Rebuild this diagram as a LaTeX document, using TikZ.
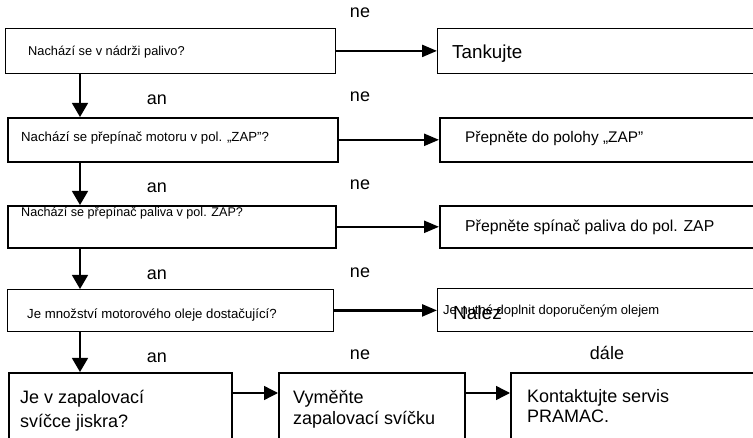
\documentclass[tikz,border=0pt]{standalone}
\usepackage{fontspec}
\setmainfont{Liberation Sans}
\usetikzlibrary{arrows.meta}
\tikzset{
  qbox/.style={draw,rectangle,anchor=north west,inner sep=0pt},
  thinbox/.style={qbox,line width=0.8pt},
  thickbox/.style={qbox,line width=1.6pt},
  txt/.style={anchor=base west,inner sep=0pt},
  lbl/.style={anchor=base,inner sep=0pt,font=\fontsize{18}{20}\selectfont},
  harrow/.style={line width=2.4pt,-{Triangle[length=15pt,width=12pt]}},
  varrow/.style={line width=1.4pt,-{Triangle[length=14pt,width=16pt]}},
  barrow/.style={line width=1.4pt,-{Triangle[length=14pt,width=14pt]}},
}

\begin{document}
\begin{tikzpicture}[x=1pt,y=-1pt]
\useasboundingbox (0,0) rectangle (753,438);
\clip (0,0) rectangle (753,438);
% left column: questions
\node[thinbox,minimum width=330pt,minimum height=45pt] (q1) at (5,28) {};
\node[thickbox,minimum width=330pt,minimum height=44pt] (q2) at (7,117) {};
\node[thickbox,minimum width=328pt,minimum height=42pt] (q3) at (7,205) {};
\node[thinbox,minimum width=326pt,minimum height=42pt] (q4) at (7,289) {};
\node[txt,font=\fontsize{12.8}{15}\selectfont] (t1) at (28,56) {Nachází se v nádrži palivo?};
\node[txt,font=\fontsize{13.2}{15}\selectfont] (t2) at (21,141.5) {Nachází se přepínač motoru v pol. „ZAP”?};
\node[txt,font=\fontsize{12.6}{15}\selectfont] (t3) at (21,217) {Nachází se přepínač paliva v pol. ZAP?};
\node[txt,font=\fontsize{13.2}{15}\selectfont] (t4) at (27,319) {Je množství motorového oleje dostačující?};
% right column: remedies (run off the page)
\node[thinbox,minimum width=330pt,minimum height=45pt] (r1) at (437,28) {};
\node[thickbox,minimum width=330pt,minimum height=44pt] (r2) at (439,117) {};
\node[thickbox,minimum width=330pt,minimum height=42pt] (r3) at (439,205) {};
\node[thinbox,minimum width=330pt,minimum height=43pt] (r4) at (437,288) {};
\node[txt,font=\fontsize{18.8}{20}\selectfont] (s1) at (452,59) {Tankujte};
\node[txt,font=\fontsize{15.4}{18}\selectfont] (s2) at (465,143) {Přepněte do polohy „ZAP”};
\node[txt,font=\fontsize{15.8}{18}\selectfont] (s3) at (465,231.5) {Přepněte spínač paliva do pol. ZAP};
\node[txt,font=\fontsize{13}{15}\selectfont] (s4) at (443,314.5) {Je nutné doplnit doporučeným olejem};
\node[txt,font=\fontsize{19}{20}\selectfont] (s4b) at (453,320) {Nalez};
% bottom row
\node[thickbox,minimum width=223pt,minimum height=80pt] (spark) at (8,372) {};
\node[thickbox,minimum width=186pt,minimum height=80pt] (plug) at (278,372) {};
\node[thickbox,minimum width=260pt,minimum height=80pt] (service) at (510,372) {};
\node[txt,align=left,font=\fontsize{18}{24}\selectfont] (ta) at (20,428) {Je v zapalovací\\svíčce jiskra?};
\node[txt,align=left,font=\fontsize{18}{21}\selectfont] (tb) at (293,425) {Vyměňte\\zapalovací svíčku};
\node[txt,align=left,font=\fontsize{18}{20.5}\selectfont] (tc) at (527,423) {Kontaktujte servis\\PRAMAC.};
% connectors
\coordinate (spine) at (80,0);
\draw[varrow] (q1.south -| spine) -- (q2.north -| spine);
\draw[varrow] (q2.south -| spine) -- (q3.north -| spine);
\draw[varrow] (q3.south -| spine) -- (q4.north -| spine);
\draw[varrow] (q4.south -| spine) -- (spark.north -| spine);
\draw[harrow] (q1.east) -- (q1.east -| r1.west);
\draw[harrow] (q2.east) -- (q2.east -| r2.west);
\draw[harrow] (q3.east) -- (q3.east -| r3.west);
\draw[harrow] (q4.east) -- (q4.east -| r4.west);
\draw[barrow] ([yshift=-21pt]spark.north east) -- ([yshift=-21pt]plug.north west);
\draw[barrow] ([yshift=-21pt]plug.north east) -- ([yshift=-21pt]service.north west);
% answers
\node[lbl] (ne1) at (360,18) {ne};
\node[lbl] (ne2) at (360,102) {ne};
\node[lbl] (ne3) at (360,190) {ne};
\node[lbl] (ne4) at (360,278) {ne};
\node[lbl] (ne5) at (360,360) {ne};
\node[lbl] (an1) at (157,105) {an};
\node[lbl] (an2) at (157,193) {an};
\node[lbl] (an3) at (157,280) {an};
\node[lbl] (an4) at (157,363) {an};
\node[lbl] (dale) at (607,360) {dále};
\end{tikzpicture}
\end{document}
